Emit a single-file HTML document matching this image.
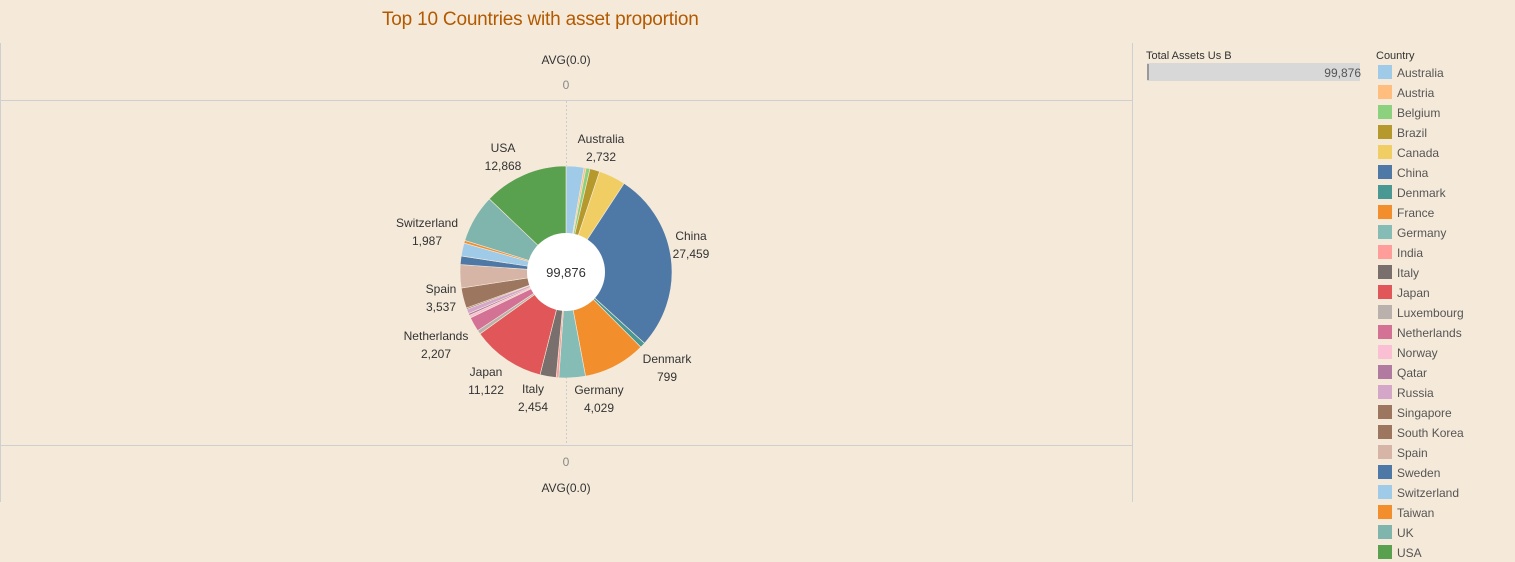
<!DOCTYPE html>
<html><head><meta charset="utf-8">
<style>
body{margin:0;width:1515px;height:562px;background:#f5eada;font-family:"Liberation Sans",sans-serif;overflow:hidden;position:relative}
.t{position:absolute;white-space:nowrap}
</style></head>
<body>
<div class="t" style="left:382px;top:9px;font-size:19px;color:#b35900;letter-spacing:-0.2px">Top 10 Countries with asset proportion</div>
<svg id="chart" width="1515" height="562" style="position:absolute;left:0;top:0"></svg>
<script>
const countries=["Australia","Austria","Belgium","Brazil","Canada","China","Denmark","France","Germany","India","Italy","Japan","Luxembourg","Netherlands","Norway","Qatar","Russia","Singapore","South Korea","Spain","Sweden","Switzerland","Taiwan","UK","USA"];
const values=[2732,300,600,1500,4100,27459,799,9500,4029,400,2454,11122,600,2207,400,300,700,200,3082,3537,1300,1987,400,7300,12868];
const colors=["#a0cbe8","#ffbe7d","#8cd17d","#b6992d","#f1ce63","#4e79a7","#499894","#f28e2b","#86bcb6","#ff9d9a","#79706e","#e15759","#bab0ac","#d37295","#fabfd2","#b07aa1","#d4a6c8","#9d7660","#9d7660","#d7b5a6","#4e79a7","#a0cbe8","#f28e2b","#7fb5ad","#59a14f"];
const labeled={"Australia":[601,139],"China":[691,236],"Denmark":[667,359],"Germany":[599,390],"Italy":[533,389],"Japan":[486,372],"Netherlands":[436,336],"Spain":[441,289],"Switzerland":[427,223],"USA":[503,148]};
const NS="http://www.w3.org/2000/svg";
const svg=document.getElementById('chart');
function el(tag,attrs,parent){const e=document.createElementNS(NS,tag);for(const k in attrs)e.setAttribute(k,attrs[k]);(parent||svg).appendChild(e);return e;}
function txt(x,y,s,size,fill,anchor){const e=el('text',{x:x,y:y,'font-size':size,fill:fill,'text-anchor':anchor||'middle','font-family':'Liberation Sans, sans-serif'});e.textContent=s;return e;}
const fmt=v=>v.toLocaleString('en-US');
let l;
l=el('line',{x1:0.5,y1:43,x2:0.5,y2:502,stroke:'#cfcfcf'});

l=el('line',{x1:1132.5,y1:43,x2:1132.5,y2:502,stroke:'#cfcfcf'});

l=el('line',{x1:0,y1:100.5,x2:1132,y2:100.5,stroke:'#cfcfcf'});

l=el('line',{x1:0,y1:445.5,x2:1132,y2:445.5,stroke:'#cfcfcf'});

l=el('line',{x1:566.5,y1:101,x2:566.5,y2:445,stroke:'#cccccc','stroke-dasharray':'2,2'});

let t;
t=txt(566,64,'AVG(0.0)',12,'#333');
t=txt(566,89,'0',12,'#888');
t=txt(566,466,'0',12,'#888');
t=txt(566,492,'AVG(0.0)',12,'#333');
const cx=566,cy=272,R=106,r0=39;
const total=values.reduce((a,b)=>a+b,0);
let a=0;
values.forEach((v,i)=>{
  const a0=a/total*2*Math.PI;a+=v;const a1=a/total*2*Math.PI;
  const x0=cx+R*Math.sin(a0),y0=cy-R*Math.cos(a0),x1=cx+R*Math.sin(a1),y1=cy-R*Math.cos(a1);
  const p=el('path',{d:`M${cx},${cy}L${x0},${y0}A${R},${R} 0 ${a1-a0>Math.PI?1:0} 1 ${x1},${y1}Z`,fill:colors[i],stroke:'#f5eada','stroke-width':0.6});
  
  
});
const hole=el('circle',{cx:cx,cy:cy,r:r0,fill:'#fff'});

t=txt(cx,277,fmt(total),13,'#333');
countries.forEach((c,i)=>{
  if(!labeled[c])return;const [x,y]=labeled[c];
  const g=el('g',{});
  
  
  const a1=el('text',{x:x,y:y+4,'font-size':12,fill:'#333','text-anchor':'middle'},g);a1.textContent=c;
  const a2=el('text',{x:x,y:y+22,'font-size':12,fill:'#333','text-anchor':'middle'},g);a2.textContent=fmt(values[i]);
});
t=txt(1146,59,'Total Assets Us B',11,'#333','start');
const bar=el('rect',{x:1147,y:63,width:213,height:18,fill:'#d8d8d8'});

l=el('line',{x1:1148,y1:64,x2:1148,y2:80,stroke:'#999','stroke-width':2});

t=txt(1361,77,fmt(total),12,'#555','end');
t=txt(1376,59,'Country',11,'#333','start');
countries.forEach((c,i)=>{
  const y=65+i*20;
  const g=el('g',{});
  
  
  el('rect',{x:1378,y:y,width:14,height:14,fill:colors[i]},g);
  const tx=el('text',{x:1397,y:y+12,'font-size':12,fill:'#555'},g);tx.textContent=c;
});
</script>
</body></html>
